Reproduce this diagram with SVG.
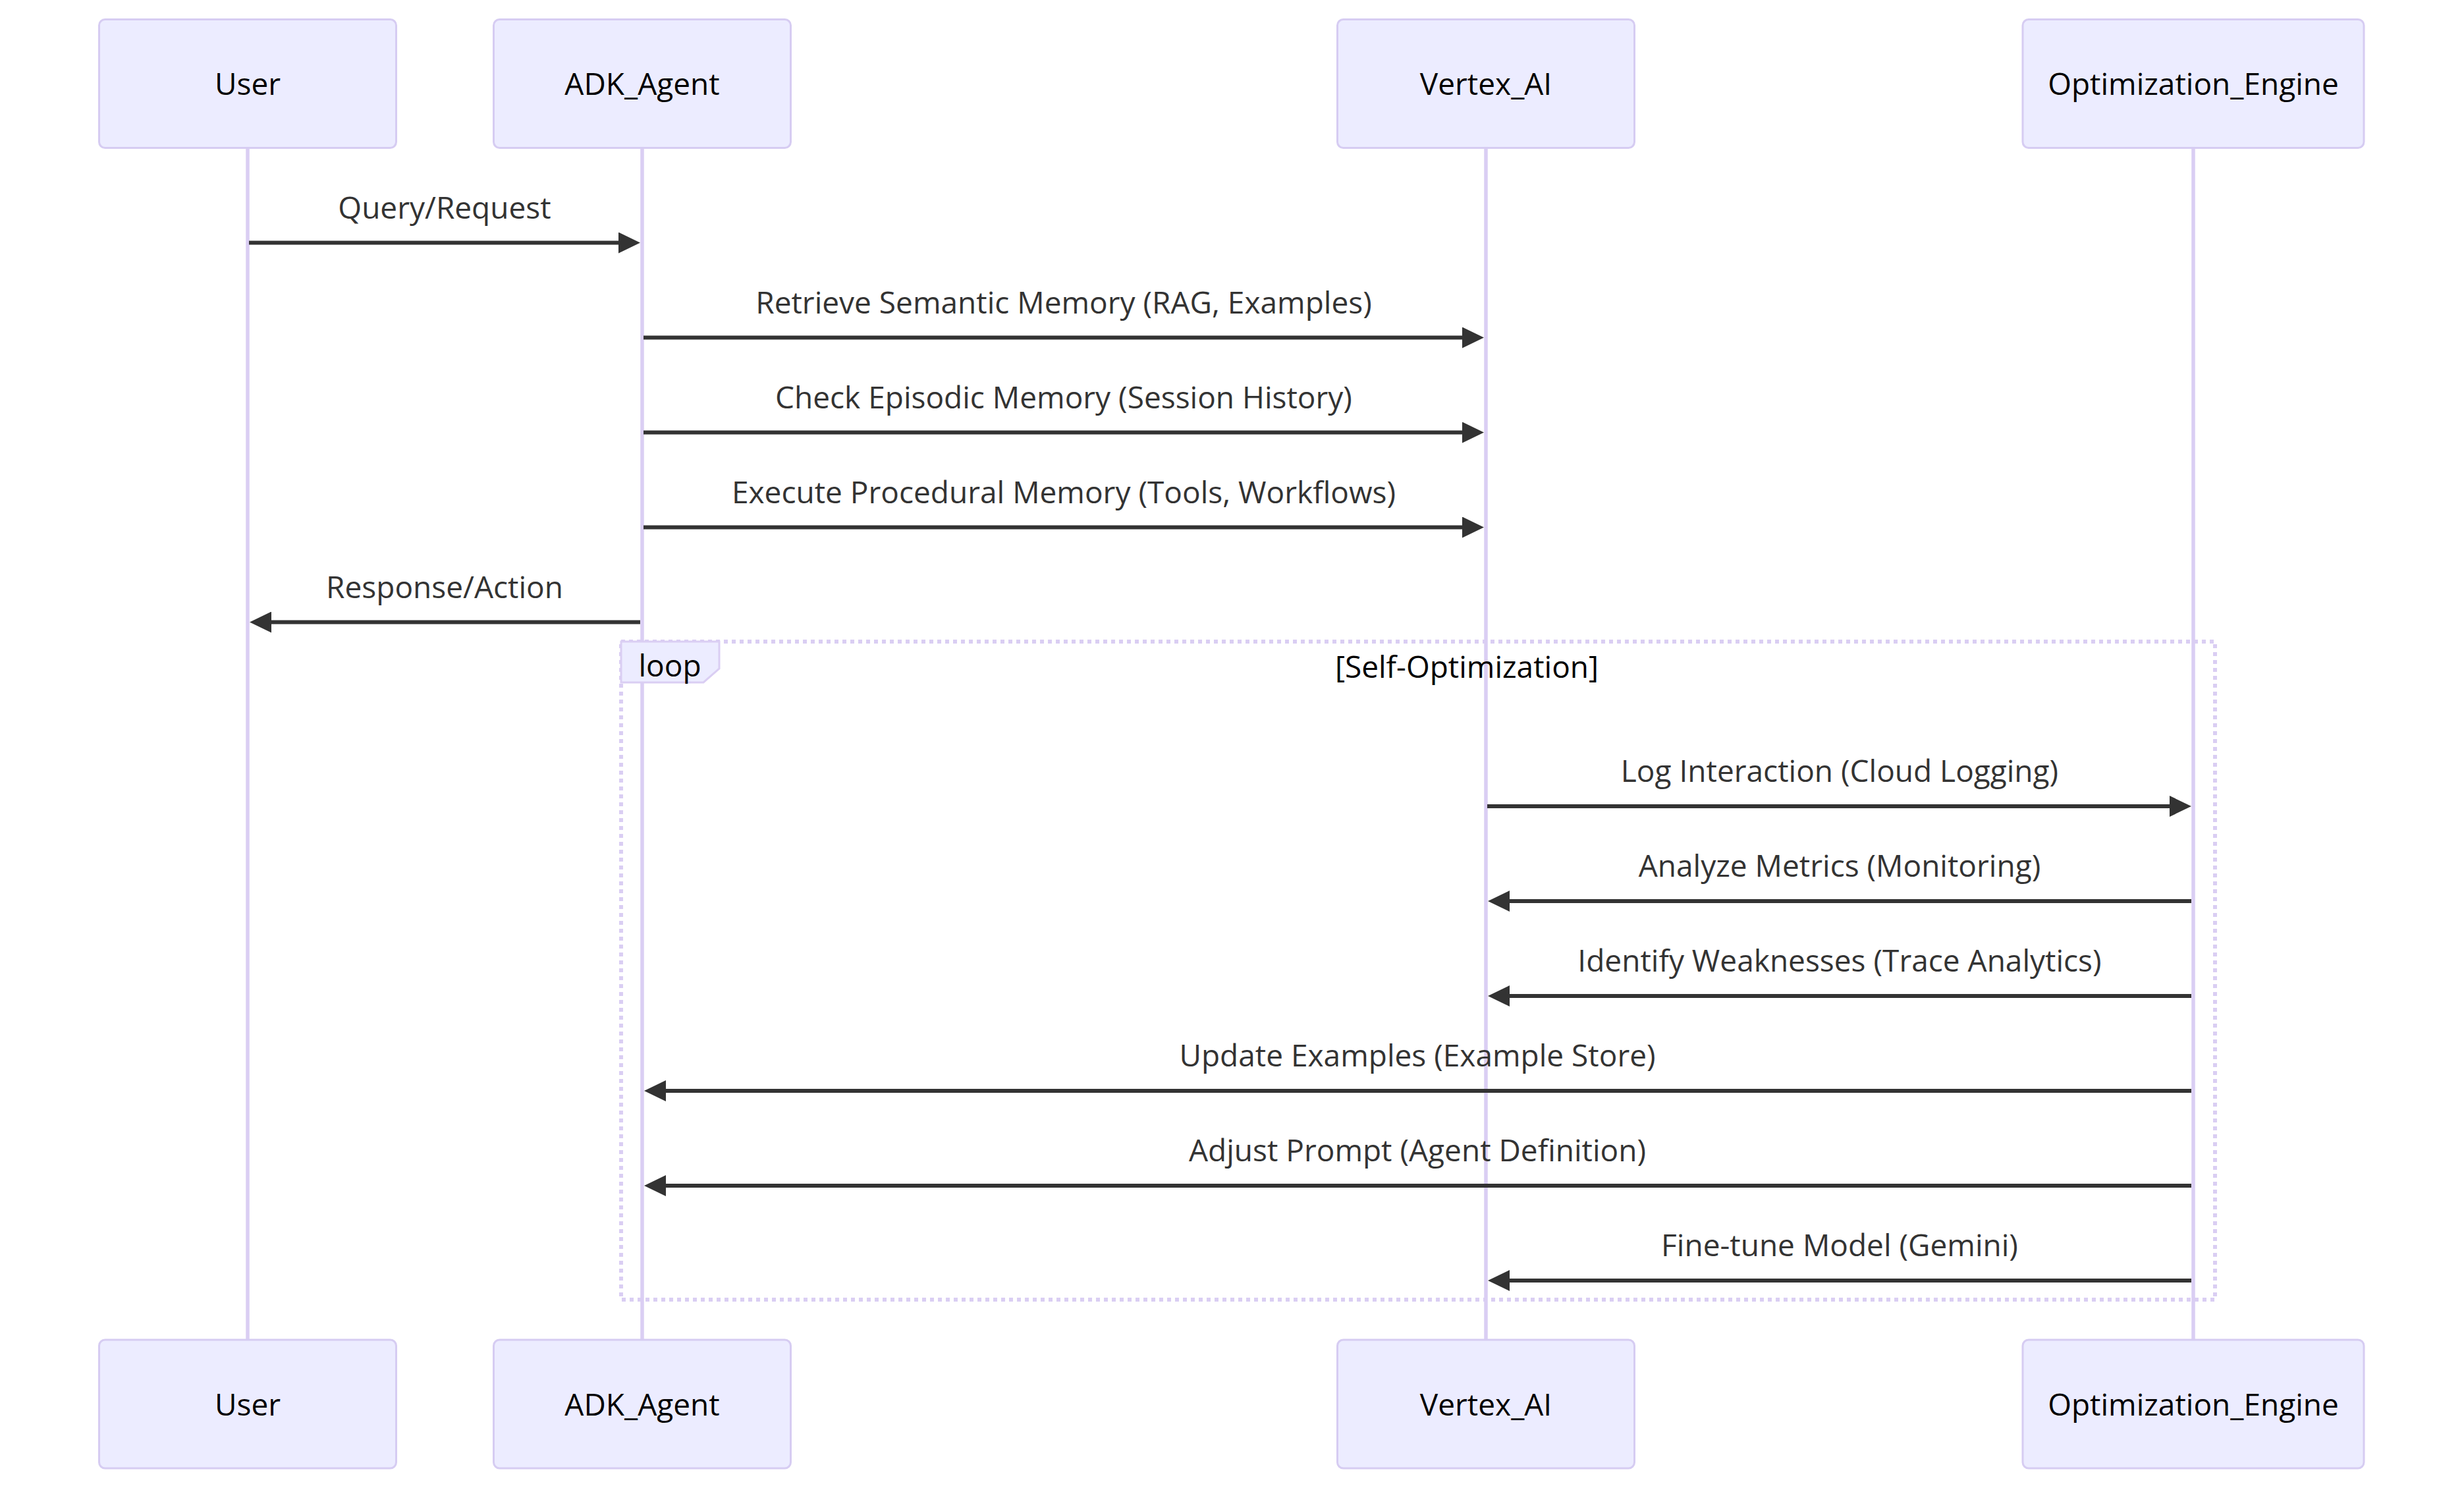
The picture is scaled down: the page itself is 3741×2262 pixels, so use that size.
<svg xmlns="http://www.w3.org/2000/svg" width="3741" height="2262" viewBox="0 0 3741 2262">
<style>
  .actor rect { fill: #ECECFF; stroke: #D6CCF2; stroke-width: 3; }
  .actor text { font-family: "Open Sans", "Liberation Sans", sans-serif; font-size: 46px; fill: #000; text-anchor: middle; }
  .lifeline { stroke: #DACEF3; stroke-width: 5.5; }
  .msg line { stroke: #333; stroke-width: 6; marker-end: url(#arrow); }
  .msg text { font-family: "Open Sans", "Liberation Sans", sans-serif; font-size: 46px; fill: #333; text-anchor: middle; }
  .loopline { fill: none; stroke: #DACEF3; stroke-width: 6; stroke-dasharray: 6 6; }
  .looplabel { fill: #ECECFF; stroke: #DACEF3; stroke-width: 3; }
  .looptext { font-family: "Open Sans", "Liberation Sans", sans-serif; font-size: 46px; fill: #000; text-anchor: middle; }
</style>
<defs>
  <marker id="arrow" markerUnits="userSpaceOnUse" markerWidth="34" markerHeight="32" refX="23" refY="16" orient="auto">
    <path d="M0,0 L33,16 L0,32 z" fill="#333"/>
  </marker>
</defs>
<rect width="3741" height="2262" fill="#fff"/>

<g id="lifelines">
  <line class="lifeline" x1="376" y1="224" x2="376" y2="2034"/>
  <line class="lifeline" x1="975" y1="224" x2="975" y2="2034"/>
  <line class="lifeline" x1="2256" y1="224" x2="2256" y2="2034"/>
  <line class="lifeline" x1="3330" y1="224" x2="3330" y2="2034"/>
</g>

<g id="loop">
  <rect class="loopline" x="943" y="974" width="2420" height="999"/>
  <polygon class="looplabel" points="943,974 1092,974 1092,1015 1068,1036 943,1036"/>
  <text class="looptext" x="1017" y="1027">loop</text>
  <text class="looptext" x="2227" y="1029">[Self-Optimization]</text>
</g>

<g id="connectors" class="msg">
  <text x="675" y="332">Query/Request</text>
  <line x1="378" y1="368.5" x2="962" y2="368.5"/>
  <text x="1615" y="476">Retrieve Semantic Memory (RAG, Examples)</text>
  <line x1="977" y1="512.5" x2="2243" y2="512.5"/>
  <text x="1615" y="620">Check Episodic Memory (Session History)</text>
  <line x1="977" y1="656.5" x2="2243" y2="656.5"/>
  <text x="1615" y="764">Execute Procedural Memory (Tools, Workflows)</text>
  <line x1="977" y1="800.5" x2="2243" y2="800.5"/>
  <text x="675" y="908">Response/Action</text>
  <line x1="972" y1="944.5" x2="389" y2="944.5"/>
  <text x="2793" y="1187">Log Interaction (Cloud Logging)</text>
  <line x1="2258" y1="1224" x2="3317" y2="1224"/>
  <text x="2793" y="1331">Analyze Metrics (Monitoring)</text>
  <line x1="3327" y1="1368" x2="2269" y2="1368"/>
  <text x="2793" y="1475">Identify Weaknesses (Trace Analytics)</text>
  <line x1="3327" y1="1512" x2="2269" y2="1512"/>
  <text x="2152" y="1619">Update Examples (Example Store)</text>
  <line x1="3327" y1="1656" x2="988" y2="1656"/>
  <text x="2152" y="1763">Adjust Prompt (Agent Definition)</text>
  <line x1="3327" y1="1800" x2="988" y2="1800"/>
  <text x="2793" y="1907">Fine-tune Model (Gemini)</text>
  <line x1="3327" y1="1944" x2="2269" y2="1944"/>
</g>

<g id="actor-user-top" class="actor">
  <rect x="150.5" y="29.5" width="451" height="195" rx="9"/>
  <text x="376" y="144">User</text>
</g>
<g id="actor-adk-top" class="actor">
  <rect x="749.5" y="29.5" width="451" height="195" rx="9"/>
  <text x="975" y="144">ADK_Agent</text>
</g>
<g id="actor-vertex-top" class="actor">
  <rect x="2030.5" y="29.5" width="451" height="195" rx="9"/>
  <text x="2256" y="144">Vertex_AI</text>
</g>
<g id="actor-opt-top" class="actor">
  <rect x="3071" y="29.5" width="518" height="195" rx="9"/>
  <text x="3330" y="144">Optimization_Engine</text>
</g>

<g id="actor-user-bottom" class="actor">
  <rect x="150.5" y="2034" width="451" height="195" rx="9"/>
  <text x="376" y="2149">User</text>
</g>
<g id="actor-adk-bottom" class="actor">
  <rect x="749.5" y="2034" width="451" height="195" rx="9"/>
  <text x="975" y="2149">ADK_Agent</text>
</g>
<g id="actor-vertex-bottom" class="actor">
  <rect x="2030.5" y="2034" width="451" height="195" rx="9"/>
  <text x="2256" y="2149">Vertex_AI</text>
</g>
<g id="actor-opt-bottom" class="actor">
  <rect x="3071" y="2034" width="518" height="195" rx="9"/>
  <text x="3330" y="2149">Optimization_Engine</text>
</g>
</svg>
